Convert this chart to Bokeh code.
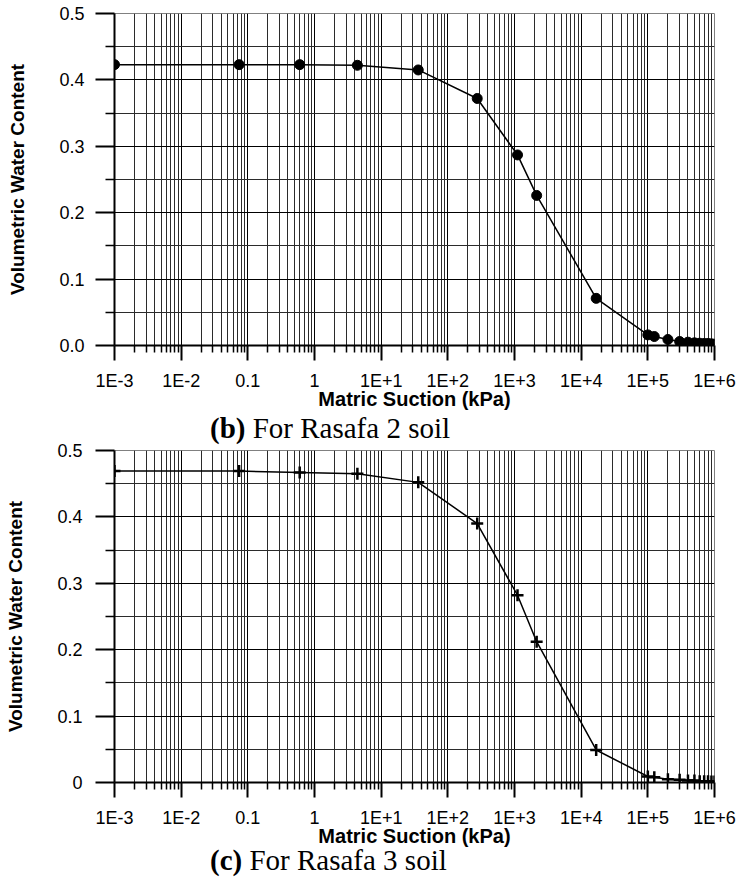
from bokeh.plotting import figure
from bokeh.models import FixedTicker, Div, Range1d, InlineStyleSheet
from bokeh.layouts import column
from bokeh.embed import file_html
from bokeh.resources import INLINE

# ---- data ----
suction = [0.001, 0.074, 0.6, 4.4, 36, 276, 1110, 2150, 16800,
           1.0e5, 1.25e5, 2.0e5, 3.0e5, 4.0e5, 5.0e5, 6.0e5, 7.0e5, 8.0e5, 9.0e5, 1.0e6]
theta_rasafa2 = [0.423, 0.423, 0.423, 0.422, 0.415, 0.372, 0.287, 0.226, 0.071,
                 0.016, 0.0135, 0.009, 0.006, 0.005, 0.004, 0.0035, 0.003, 0.003, 0.0025, 0.002]
theta_rasafa3 = [0.469, 0.469, 0.467, 0.465, 0.452, 0.390, 0.282, 0.212, 0.049,
                 0.009, 0.008, 0.005, 0.004, 0.003, 0.003, 0.002, 0.002, 0.002, 0.0015, 0.0015]

x_major = [1e-3, 1e-2, 1e-1, 1e0, 1e1, 1e2, 1e3, 1e4, 1e5, 1e6]
x_labels = ["1E-3", "1E-2", "0.1", "1", "1E+1", "1E+2", "1E+3", "1E+4", "1E+5", "1E+6"]
x_minor = [m * t for t in x_major[:-1] for m in range(2, 10)]

y_major = [0.0, 0.1, 0.2, 0.3, 0.4, 0.5]
y_minor = [0.05, 0.15, 0.25, 0.35, 0.45]
y_labels_b = ["0.0", "0.1", "0.2", "0.3", "0.4", "0.5"]
y_labels_c = ["0", "0.1", "0.2", "0.3", "0.4", "0.5"]

SANS = "Liberation Sans"


def make_fig(theta, marker, y_labels, left, frame_w, ylab_standoff):
    right = 741 - left - frame_w
    p = figure(width=741, height=13 + 332 + 74,
               x_axis_type="log", output_backend="svg", toolbar_location=None,
               x_range=Range1d(1e-3, 1e6), y_range=Range1d(0, 0.5),
               min_border_left=left, min_border_right=right,
               min_border_top=13, min_border_bottom=74)
    p.outline_line_color = "#808080"
    p.outline_line_width = 1
    p.border_fill_alpha = 0

    xt = FixedTicker(ticks=x_major, minor_ticks=x_minor)
    yt = FixedTicker(ticks=y_major, minor_ticks=y_minor)
    p.xaxis.ticker = xt
    p.yaxis.ticker = yt
    p.xgrid.ticker = xt
    p.ygrid.ticker = yt

    for g in (p.xgrid, p.ygrid):
        g.grid_line_color = "black"
        g.grid_line_width = 1
        g.minor_grid_line_color = "#2b2b2b"
        g.minor_grid_line_width = 1

    p.xaxis.major_label_overrides = {v: s for v, s in zip(x_major, x_labels)}
    p.yaxis.major_label_overrides = {v: s for v, s in zip(y_major, y_labels)}

    for ax in (p.xaxis, p.yaxis):
        ax.axis_line_width = 2
        ax.axis_line_color = "black"
        ax.major_tick_line_width = 2
        ax.minor_tick_line_width = 1.5
        ax.major_tick_in = 0
        ax.minor_tick_in = 0
        ax.major_label_text_font = SANS
        ax.major_label_text_font_size = "18px"
        ax.major_label_text_color = "black"
        ax.axis_label_text_font = SANS
        ax.axis_label_text_font_style = "bold"
        ax.axis_label_text_color = "black"

    p.xaxis.major_tick_out = 15
    p.xaxis.minor_tick_out = 7
    p.xaxis.major_label_standoff = 10
    p.xaxis.axis_label = "Matric Suction (kPa)"
    p.xaxis.axis_label_text_font_size = "20px"
    p.xaxis.axis_label_standoff = -6

    p.yaxis.major_tick_out = 19
    p.yaxis.minor_tick_out = 9
    p.yaxis.major_label_standoff = ylab_standoff
    p.yaxis.axis_label = "Volumetric Water Content"
    p.yaxis.axis_label_text_font_size = "19px"
    p.yaxis.axis_label_standoff = 28

    p.line(suction, theta, line_color="black", line_width=1.5)
    if marker == "circle":
        p.scatter(suction, theta, marker="circle", size=10,
                  fill_color="black", line_color="black")
    else:
        p.scatter(suction, theta, marker="cross", size=12,
                  line_color="black", line_width=2.5)
    return p


visible_css = InlineStyleSheet(css=":host { overflow: visible !important; } "
                                   "div { overflow: visible !important; }")


def caption(letter, text, height, shift):
    html = ('<div style="position:relative; top:%dpx; margin-left:210px; '
            'font-family:\'Liberation Serif\', serif; font-size:29px; '
            'line-height:%dpx; color:black; white-space:nowrap;">'
            '<b>(%s)</b> %s</div>' % (shift, height, letter, text))
    return Div(text=html, width=741, height=height, margin=(0, 0, 0, 0),
               styles={"overflow": "visible"}, stylesheets=[visible_css])


p1 = make_fig(theta_rasafa2, "circle", y_labels_b, 112, 602, 11)
d1 = caption("b", "For Rasafa 2 soil", 18, 0)
p2 = make_fig(theta_rasafa3, "cross", y_labels_c, 114, 600, 13)
d2 = caption("c", "For Rasafa 3 soil", 24, -8)

layout = column(p1, d1, p2, d2, spacing=0)

open("out.html", "w").write(file_html(layout, INLINE))
